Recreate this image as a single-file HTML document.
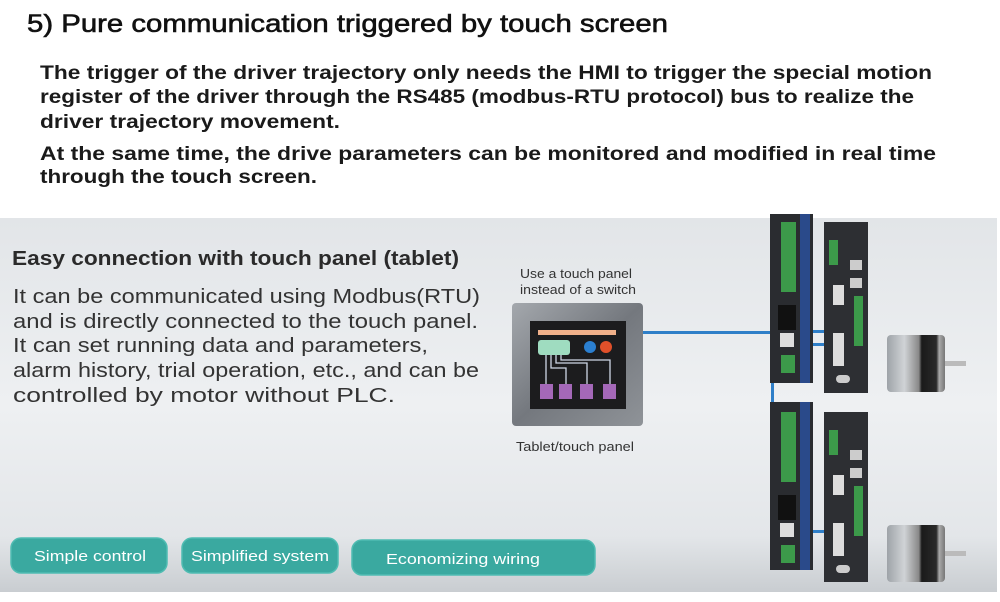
<!DOCTYPE html>
<html><head><meta charset="utf-8"><style>
html,body{margin:0;padding:0;background:#fff;}
svg{display:block;}
text{font-family:"Liberation Sans",sans-serif;}
</style></head><body>
<svg width="1000" height="602" viewBox="0 0 1000 602" xmlns="http://www.w3.org/2000/svg">
<defs>
<linearGradient id="bg" x1="0" y1="0" x2="0" y2="1">
<stop offset="0" stop-color="#e2e5e8"/><stop offset="0.5" stop-color="#eef0f2"/><stop offset="0.85" stop-color="#e3e6e9"/><stop offset="1" stop-color="#c9cdd1"/>
</linearGradient>
<linearGradient id="tab" x1="0" y1="0" x2="1" y2="1">
<stop offset="0" stop-color="#a4a8ad"/><stop offset="0.5" stop-color="#74787e"/><stop offset="1" stop-color="#8f9398"/>
</linearGradient>
<linearGradient id="mot" x1="0" y1="0" x2="1" y2="0">
<stop offset="0" stop-color="#9ea3a8"/><stop offset="0.3" stop-color="#d0d3d6"/><stop offset="0.55" stop-color="#888"/><stop offset="0.6" stop-color="#1a1a1a"/><stop offset="0.85" stop-color="#2a2a2a"/><stop offset="0.9" stop-color="#aaa"/><stop offset="1" stop-color="#777"/>
</linearGradient>
</defs>
<rect width="1000" height="602" fill="#fff"/>
<text x="27" y="32" font-size="25" fill="#111" stroke="#111" stroke-width="0.6" textLength="641" lengthAdjust="spacingAndGlyphs">5) Pure communication triggered by touch screen</text>
<g font-size="19.5" font-weight="bold" fill="#1a1a1a">
<text x="40" y="79" textLength="892" lengthAdjust="spacingAndGlyphs">The trigger of the driver trajectory only needs the HMI to trigger the special motion</text>
<text x="40" y="103" textLength="874" lengthAdjust="spacingAndGlyphs">register of the driver through the RS485 (modbus-RTU protocol) bus to realize the</text>
<text x="40" y="128" textLength="300" lengthAdjust="spacingAndGlyphs">driver trajectory movement.</text>
<text x="40" y="160" textLength="896" lengthAdjust="spacingAndGlyphs">At the same time, the drive parameters can be monitored and modified in real time</text>
<text x="40" y="183" textLength="277" lengthAdjust="spacingAndGlyphs">through the touch screen.</text>
</g>
<rect x="0" y="218" width="997" height="374" fill="url(#bg)"/>
<text x="12" y="265" font-size="20" font-weight="bold" fill="#2a2a2a" textLength="447" lengthAdjust="spacingAndGlyphs">Easy connection with touch panel (tablet)</text>
<g font-size="20" fill="#333">
<text x="13" y="303" textLength="467" lengthAdjust="spacingAndGlyphs">It can be communicated using Modbus(RTU)</text>
<text x="13" y="328" textLength="465" lengthAdjust="spacingAndGlyphs">and is directly connected to the touch panel.</text>
<text x="13" y="352" textLength="415" lengthAdjust="spacingAndGlyphs">It can set running data and parameters,</text>
<text x="13" y="377" textLength="466" lengthAdjust="spacingAndGlyphs">alarm history, trial operation, etc., and can be</text>
<text x="13" y="402" textLength="382" lengthAdjust="spacingAndGlyphs">controlled by motor without PLC.</text>
</g>
<g font-size="12.5" fill="#333">
<text x="520" y="278" textLength="112" lengthAdjust="spacingAndGlyphs">Use a touch panel</text>
<text x="520" y="294" textLength="116" lengthAdjust="spacingAndGlyphs">instead of a switch</text>
<text x="516" y="451" textLength="118" lengthAdjust="spacingAndGlyphs">Tablet/touch panel</text>
</g>
<!-- tablet -->
<rect x="512" y="303" width="131" height="123" rx="4" fill="url(#tab)"/>
<rect x="530" y="321" width="96" height="88" fill="#1c1c1e"/>
<rect x="538" y="330" width="78" height="5" fill="#f0b08a"/>
<rect x="538" y="340" width="32" height="15" rx="3" fill="#9fdcc0"/>
<circle cx="590" cy="347" r="6" fill="#2b7fd0"/><circle cx="606" cy="347" r="6" fill="#e0502a"/>
<g stroke="#cfd7e6" stroke-width="1.3" fill="none">
<path d="M546 355 V385 M551 355 V368 H566 V385 M556 355 V363 H587 V385 M561 355 V360 H610 V385"/>
</g>
<g fill="#a468b8"><rect x="540" y="384" width="13" height="15"/><rect x="559" y="384" width="13" height="15"/><rect x="580" y="384" width="13" height="15"/><rect x="603" y="384" width="13" height="15"/></g>
<!-- lines -->
<rect x="643" y="331" width="127" height="3" fill="#2f7fc8"/>
<rect x="771" y="383" width="3" height="19" fill="#2f7fc8"/>
<rect x="812" y="330" width="14" height="3" fill="#2f7fc8"/><rect x="812" y="343" width="14" height="3" fill="#2f7fc8"/>
<rect x="812" y="530" width="14" height="3" fill="#2f7fc8"/>
<!-- drivers -->
<g>
<rect x="770" y="214" width="43" height="169" fill="#2a2c30"/>
<rect x="800" y="214" width="10" height="169" fill="#2a4a8a"/>
<rect x="781" y="222" width="15" height="70" fill="#3c9a4a"/>
<rect x="778" y="305" width="18" height="25" fill="#111"/>
<rect x="780" y="333" width="14" height="14" fill="#ddd"/>
<rect x="781" y="355" width="14" height="18" fill="#3c9a4a"/>
<rect x="824" y="222" width="44" height="171" fill="#2d2f33"/>
<rect x="829" y="240" width="9" height="25" fill="#3c9a4a"/>
<rect x="850" y="260" width="12" height="10" fill="#ccc"/><rect x="850" y="278" width="12" height="10" fill="#ccc"/>
<rect x="833" y="285" width="11" height="20" fill="#ddd"/>
<rect x="854" y="296" width="9" height="50" fill="#3c9a4a"/>
<rect x="833" y="333" width="11" height="33" fill="#ddd"/>
<rect x="836" y="375" width="14" height="8" rx="4" fill="#ccc"/>
</g>
<g transform="translate(0,190)">
<rect x="770" y="212" width="43" height="168" fill="#2a2c30"/>
<rect x="800" y="212" width="10" height="168" fill="#2a4a8a"/>
<rect x="781" y="222" width="15" height="70" fill="#3c9a4a"/>
<rect x="778" y="305" width="18" height="25" fill="#111"/>
<rect x="780" y="333" width="14" height="14" fill="#ddd"/>
<rect x="781" y="355" width="14" height="18" fill="#3c9a4a"/>
<rect x="824" y="222" width="44" height="170" fill="#2d2f33"/>
<rect x="829" y="240" width="9" height="25" fill="#3c9a4a"/>
<rect x="850" y="260" width="12" height="10" fill="#ccc"/><rect x="850" y="278" width="12" height="10" fill="#ccc"/>
<rect x="833" y="285" width="11" height="20" fill="#ddd"/>
<rect x="854" y="296" width="9" height="50" fill="#3c9a4a"/>
<rect x="833" y="333" width="11" height="33" fill="#ddd"/>
<rect x="836" y="375" width="14" height="8" rx="4" fill="#ccc"/>
</g>
<!-- motors -->
<rect x="887" y="335" width="58" height="57" rx="4" fill="url(#mot)"/>
<rect x="945" y="361" width="21" height="5" fill="#bbb"/>
<rect x="887" y="525" width="58" height="57" rx="4" fill="url(#mot)"/>
<rect x="945" y="551" width="21" height="5" fill="#bbb"/>
<!-- buttons -->
<g fill="#3aa9a0" stroke="#4fbcb2" stroke-width="1.5">
<rect x="11" y="538" width="156" height="35" rx="10"/>
<rect x="182" y="538" width="156" height="35" rx="10"/>
<rect x="352" y="540" width="243" height="35" rx="10"/>
</g>
<g font-size="15" fill="#fff">
<text x="34" y="561" textLength="112" lengthAdjust="spacingAndGlyphs">Simple control</text>
<text x="191" y="561" textLength="138" lengthAdjust="spacingAndGlyphs">Simplified system</text>
<text x="386" y="564" textLength="154" lengthAdjust="spacingAndGlyphs">Economizing wiring</text>
</g>
</svg>
</body></html>
